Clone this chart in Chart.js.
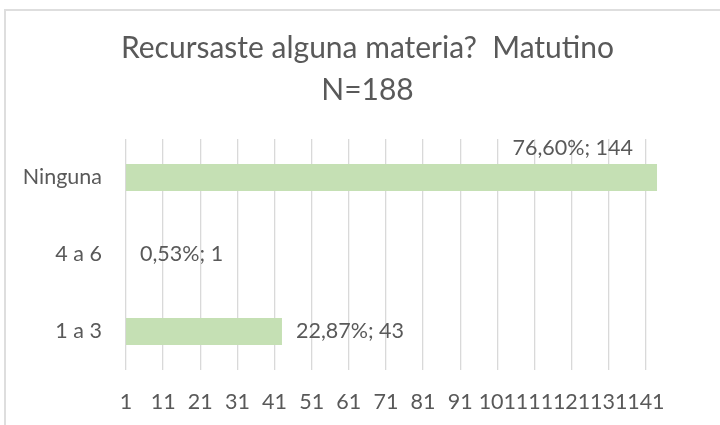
<!DOCTYPE html>
<html>
<head>
<meta charset="utf-8">
<script src="https://cdn.jsdelivr.net/npm/chart.js@4/dist/chart.umd.min.js"></script>
<style>
  html, body { margin: 0; padding: 0; background: #ffffff; overflow: hidden; }
  #wrap { position: relative; width: 720px; height: 425px; overflow: hidden; }
  #frame { position: absolute; left: 4px; top: 9px; width: 800px; height: 600px; border: 2px solid #dedede; box-sizing: border-box; }
  canvas { position: absolute; left: 0; top: 0; }
</style>
</head>
<body>
<div id="wrap">
  <div id="frame"></div>
  <canvas id="c" width="735" height="425"></canvas>
</div>
<script>
// ---- data ----
const titleLines = ["Recursaste alguna materia?  Matutino", "N=188"];
const categories = ["Ninguna", "4 a 6", "1 a 3"];
const counts = [144, 1, 43];
const percents = [76.60, 0.53, 22.87];
const xTicks = [1, 11, 21, 31, 41, 51, 61, 71, 81, 91, 101, 111, 121, 131, 141];
const xMin = 1;
const xMax = 165;

// ---- styles ----
const FONT = "Lato";
const TEXT = "#595959";
const GRID = "#d9d9d9";
const BAR = "#c5e0b4";
const LABEL_SIZE = 21.5;
const TITLE_SIZE = 30;

function fmtPct(p) {
  return p.toFixed(2).replace('.', ',') + '%';
}

const barLabels = {
  id: 'barLabels',
  afterDatasetsDraw(chart) {
    const ctx = chart.ctx;
    const meta = chart.getDatasetMeta(0);
    const visibleRight = 720 - 30;
    ctx.save();
    ctx.font = LABEL_SIZE + 'px ' + FONT;
    ctx.fillStyle = TEXT;
    ctx.textBaseline = 'middle';
    meta.data.forEach((bar, i) => {
      const txt = fmtPct(percents[i]) + '; ' + counts[i];
      const w = ctx.measureText(txt).width;
      let x = bar.x + 14;
      let y = bar.y;
      if (x + w > visibleRight) {
        ctx.textAlign = 'right';
        x = bar.x - 24;
        y = bar.y - bar.height / 2 - 16;
      } else {
        ctx.textAlign = 'left';
      }
      ctx.fillText(txt, x, y);
    });
    ctx.restore();
  }
};

new Chart(document.getElementById('c'), {
  type: 'bar',
  data: {
    labels: categories,
    datasets: [{
      data: counts,
      backgroundColor: BAR,
      borderWidth: 0,
      barPercentage: 0.35,
      categoryPercentage: 1.0
    }]
  },
  options: {
    indexAxis: 'y',
    responsive: false,
    animation: false,
    devicePixelRatio: 1,
    layout: { padding: { left: 0, right: 0, top: 0, bottom: 0 } },
    plugins: {
      legend: { display: false },
      tooltip: { enabled: false },
      title: {
        display: true,
        text: titleLines,
        color: TEXT,
        font: { family: FONT, size: TITLE_SIZE, weight: 'normal', lineHeight: 42 / TITLE_SIZE },
        padding: { top: 27, bottom: 28 }
      }
    },
    scales: {
      x: {
        type: 'linear',
        min: xMin,
        max: xMax,
        afterBuildTicks(scale) {
          scale.ticks = xTicks.map(v => ({ value: v }));
        },
        afterFit(scale) { scale.height = 55; },
        grid: { color: GRID, lineWidth: 1.3, drawTicks: false },
        border: { display: false },
        ticks: {
          autoSkip: false,
          maxRotation: 0,
          minRotation: 0,
          padding: 19,
          color: TEXT,
          font: { family: FONT, size: LABEL_SIZE }
        }
      },
      y: {
        afterFit(scale) { scale.width = 126; },
        grid: { display: false, drawTicks: false },
        border: { display: false },
        ticks: {
          padding: 24,
          color: TEXT,
          font: { family: FONT, size: LABEL_SIZE }
        }
      }
    }
  },
  plugins: [barLabels]
});
</script>
</body>
</html>
